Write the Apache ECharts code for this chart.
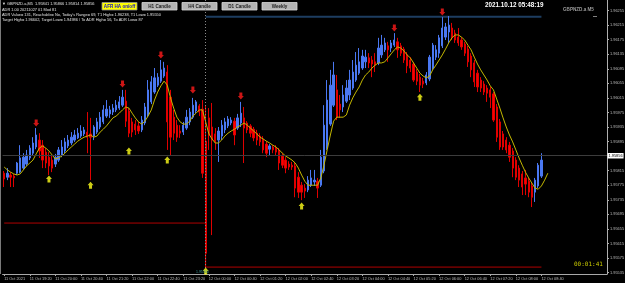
<!DOCTYPE html>
<html><head><meta charset="utf-8">
<script src="https://cdn.jsdelivr.net/npm/echarts@6/dist/echarts.min.js"></script>
<style>html,body{margin:0;padding:0;background:#000;}#c{width:625px;height:283px;}</style>
</head><body><div id="c"></div>
<script>
// ---------- data ----------
const tickLabels = ['11 Oct 2021','11 Oct 19:20','11 Oct 20:00','11 Oct 20:40','11 Oct 21:20','11 Oct 22:00','11 Oct 22:40','11 Oct 23:20','12 Oct 00:00','12 Oct 00:40','12 Oct 01:20','12 Oct 02:00','12 Oct 02:40','12 Oct 03:20','12 Oct 04:00','12 Oct 04:40','12 Oct 05:20','12 Oct 06:00','12 Oct 06:40','12 Oct 07:20','12 Oct 08:00','12 Oct 08:40'];
const barsPerLabel = 8;
const slotCount = 189;
const priceTicks = [1.96255,1.96215,1.96175,1.96135,1.96095,1.96055,1.96015,1.95975,1.95935,1.95895,1.95815,1.95775,1.95735,1.95695,1.95655,1.95615,1.95575,1.95535];

// Heiken Ashi bars: [open, close, low, high]
const haBars = [
[1.95808,1.95792,1.95770,1.95814],[1.95797,1.95808,1.95789,1.95822],[1.95803,1.95797,1.95770,1.95811],[1.95800,1.95795,1.95770,1.95806],
[1.95808,1.95836,1.95803,1.95839],[1.95811,1.95850,1.95808,1.95885],[1.95822,1.95852,1.95817,1.95863],[1.95833,1.95858,1.95828,1.95872],
[1.95850,1.95877,1.95844,1.95885],[1.95863,1.95891,1.95858,1.95907],[1.95880,1.95913,1.95874,1.95932],[1.95899,1.95869,1.95850,1.95918],
[1.95885,1.95844,1.95822,1.95899],[1.95866,1.95836,1.95822,1.95877],[1.95852,1.95828,1.95803,1.95866],[1.95844,1.95822,1.95811,1.95858],
[1.95833,1.95852,1.95825,1.95861],[1.95844,1.95872,1.95839,1.95880],[1.95858,1.95880,1.95852,1.95899],[1.95869,1.95894,1.95863,1.95905],
[1.95883,1.95899,1.95877,1.95913],[1.95891,1.95907,1.95885,1.95921],[1.95899,1.95913,1.95894,1.95927],[1.95905,1.95918,1.95902,1.95932],
[1.95910,1.95924,1.95905,1.95940],[1.95916,1.95927,1.95910,1.95935],[1.95921,1.95907,1.95863,1.95976],[1.95916,1.95907,1.95789,1.95960],
[1.95910,1.95935,1.95899,1.95940],[1.95921,1.95949,1.95916,1.95960],[1.95935,1.95962,1.95929,1.95976],[1.95949,1.95982,1.95943,1.95995],
[1.95965,1.95984,1.95960,1.96009],[1.95971,1.95982,1.95960,1.95993],[1.95976,1.95987,1.95968,1.95998],[1.95982,1.95995,1.95976,1.96009],
[1.95987,1.96004,1.95982,1.96020],[1.95995,1.96017,1.95990,1.96037],[1.96006,1.95951,1.95935,1.96037],[1.95979,1.95918,1.95907,1.95987],
[1.95949,1.95921,1.95907,1.95960],[1.95943,1.95927,1.95913,1.95954],[1.95938,1.95924,1.95916,1.95949],[1.95927,1.95954,1.95921,1.95965],
[1.95946,1.95990,1.95940,1.96001],[1.95968,1.96037,1.95962,1.96064],[1.96004,1.96059,1.95998,1.96075],[1.96031,1.96070,1.96026,1.96097],
[1.96050,1.96072,1.96045,1.96083],[1.96061,1.96092,1.96056,1.96119],[1.96075,1.96097,1.96070,1.96114],[1.96086,1.95949,1.95872,1.96105],
[1.96017,1.95907,1.95858,1.96037],[1.95962,1.95918,1.95899,1.95982],[1.95940,1.95907,1.95894,1.95954],[1.95924,1.95918,1.95905,1.95940],
[1.95921,1.95940,1.95913,1.95949],[1.95932,1.95962,1.95927,1.95982],[1.95949,1.95976,1.95940,1.95987],[1.95962,1.95995,1.95957,1.96015],
[1.95979,1.96004,1.95973,1.96009],[1.95993,1.95976,1.95965,1.95998],[1.95984,1.95808,1.95795,1.96009],[1.95896,1.95588,1.95550,1.95995],
[1.95960,1.95913,1.95872,1.95987],[1.95935,1.95899,1.95638,1.96001],[1.95916,1.95894,1.95872,1.95932],[1.95899,1.95924,1.95839,1.95935],
[1.95910,1.95940,1.95899,1.95954],[1.95927,1.95949,1.95918,1.95960],[1.95938,1.95957,1.95932,1.95965],[1.95946,1.95954,1.95940,1.95962],
[1.95951,1.95913,1.95885,1.95960],[1.95932,1.95960,1.95927,1.95971],[1.95946,1.95973,1.95935,1.96004],[1.95960,1.95932,1.95836,1.95990],
[1.95946,1.95927,1.95918,1.95951],[1.95938,1.95918,1.95907,1.95943],[1.95929,1.95905,1.95896,1.95935],[1.95918,1.95899,1.95885,1.95927],
[1.95910,1.95894,1.95883,1.95918],[1.95902,1.95872,1.95863,1.95910],[1.95888,1.95863,1.95852,1.95896],[1.95874,1.95883,1.95858,1.95888],
[1.95880,1.95872,1.95863,1.95885],[1.95877,1.95866,1.95858,1.95885],[1.95872,1.95836,1.95817,1.95877],[1.95855,1.95830,1.95822,1.95863],
[1.95844,1.95822,1.95808,1.95852],[1.95833,1.95825,1.95817,1.95841],[1.95830,1.95825,1.95817,1.95839],[1.95828,1.95767,1.95742,1.95839],
[1.95797,1.95756,1.95740,1.95811],[1.95775,1.95756,1.95734,1.95784],[1.95767,1.95759,1.95740,1.95778],[1.95762,1.95789,1.95756,1.95800],
[1.95775,1.95795,1.95770,1.95817],[1.95784,1.95789,1.95773,1.95817],[1.95786,1.95767,1.95740,1.95795],[1.95775,1.95852,1.95770,1.95872],
[1.95814,1.95940,1.95808,1.95995],[1.95877,1.96009,1.95872,1.96064],[1.95943,1.96050,1.95938,1.96092],[1.95995,1.96078,1.95990,1.96114],
[1.96037,1.95962,1.95954,1.96078],[1.95998,1.95982,1.95960,1.96023],[1.95990,1.96023,1.95976,1.96050],[1.96006,1.96042,1.96001,1.96064],
[1.96023,1.96064,1.96009,1.96092],[1.96042,1.96086,1.96037,1.96119],[1.96064,1.96105,1.96059,1.96141],[1.96083,1.96114,1.96078,1.96152],
[1.96097,1.96130,1.96092,1.96147],[1.96114,1.96127,1.96097,1.96147],[1.96125,1.96111,1.96097,1.96138],[1.96119,1.96108,1.96072,1.96130],
[1.96114,1.96105,1.96086,1.96138],[1.96111,1.96152,1.96105,1.96180],[1.96133,1.96160,1.96125,1.96188],[1.96147,1.96166,1.96141,1.96180],
[1.96158,1.96147,1.96114,1.96169],[1.96152,1.96166,1.96141,1.96174],[1.96160,1.96174,1.96155,1.96193],[1.96169,1.96147,1.96125,1.96180],
[1.96158,1.96138,1.96130,1.96166],[1.96149,1.96119,1.96111,1.96155],[1.96133,1.96103,1.96083,1.96141],[1.96119,1.96097,1.96086,1.96127],
[1.96108,1.96064,1.96059,1.96114],[1.96086,1.96061,1.96050,1.96094],[1.96072,1.96050,1.96031,1.96081],[1.96061,1.96053,1.96042,1.96070],
[1.96056,1.96078,1.96050,1.96086],[1.96067,1.96127,1.96061,1.96133],[1.96097,1.96160,1.96092,1.96166],[1.96127,1.96147,1.96119,1.96160],
[1.96138,1.96180,1.96125,1.96188],[1.96158,1.96207,1.96152,1.96237],[1.96182,1.96210,1.96174,1.96221],[1.96196,1.96215,1.96166,1.96240],
[1.96207,1.96180,1.96174,1.96221],[1.96193,1.96174,1.96166,1.96202],[1.96182,1.96166,1.96158,1.96207],[1.96174,1.96155,1.96147,1.96182],
[1.96163,1.96138,1.96130,1.96169],[1.96149,1.96114,1.96100,1.96158],[1.96130,1.96092,1.96072,1.96138],[1.96111,1.96059,1.96045,1.96119],
[1.96083,1.96045,1.96031,1.96092],[1.96064,1.96042,1.96031,1.96072],[1.96053,1.96031,1.96023,1.96061],[1.96042,1.96028,1.96004,1.96050],
[1.96037,1.96017,1.95987,1.96045],[1.96026,1.95954,1.95949,1.96031],[1.95990,1.95907,1.95894,1.95998],[1.95949,1.95880,1.95872,1.95957],
[1.95916,1.95880,1.95872,1.95924],[1.95899,1.95872,1.95863,1.95907],[1.95885,1.95852,1.95839,1.95894],[1.95869,1.95822,1.95797,1.95877],
[1.95844,1.95797,1.95789,1.95852],[1.95822,1.95789,1.95770,1.95830],[1.95806,1.95770,1.95748,1.95814],[1.95795,1.95778,1.95748,1.95817],
[1.95786,1.95756,1.95742,1.95795],[1.95773,1.95742,1.95715,1.95781],[1.95756,1.95789,1.95729,1.95795],[1.95773,1.95830,1.95767,1.95836],
[1.95800,1.95844,1.95795,1.95863]
];

const maValues = [1.95825,1.95817,1.95811,1.95806,1.95803,1.95806,1.95817,1.95828,1.95836,1.95844,
1.95861,1.95877,1.95883,1.95877,1.95869,1.95858,1.95847,1.95850,1.95855,1.95863,
1.95872,1.95880,1.95888,1.95896,1.95902,1.95907,1.95910,1.95913,1.95907,1.95910,
1.95921,1.95929,1.95938,1.95949,1.95960,1.95965,1.95973,1.95982,1.95990,1.95987,
1.95973,1.95960,1.95949,1.95943,1.95951,1.95965,1.95982,1.96009,1.96031,1.96048,
1.96061,1.96050,1.96015,1.95987,1.95962,1.95949,1.95943,1.95943,1.95951,1.95965,
1.95973,1.95982,1.95982,1.95949,1.95916,1.95902,1.95891,1.95891,1.95899,1.95910,
1.95918,1.95924,1.95929,1.95935,1.95940,1.95946,1.95940,1.95932,1.95924,1.95916,
1.95907,1.95902,1.95896,1.95891,1.95885,1.95880,1.95872,1.95863,1.95855,1.95850,
1.95844,1.95836,1.95822,1.95803,1.95786,1.95775,1.95775,1.95775,1.95775,1.95795,
1.95830,1.95872,1.95913,1.95951,1.95962,1.95962,1.95962,1.95968,1.95995,1.96015,
1.96031,1.96045,1.96064,1.96078,1.96086,1.96097,1.96105,1.96111,1.96111,1.96114,
1.96125,1.96136,1.96147,1.96155,1.96152,1.96144,1.96133,1.96125,1.96111,1.96097,
1.96083,1.96075,1.96070,1.96075,1.96092,1.96105,1.96119,1.96133,1.96149,1.96166,
1.96180,1.96188,1.96188,1.96182,1.96174,1.96160,1.96147,1.96127,1.96108,1.96092,
1.96078,1.96064,1.96048,1.96037,1.96012,1.95987,1.95960,1.95935,1.95913,1.95894,
1.95872,1.95850,1.95830,1.95811,1.95795,1.95781,1.95767,1.95764,1.95773,1.95789,1.95808];

const downArrowBars = [10, 37, 49, 59, 74, 122, 137];
const downArrowPrices = [1.95946, 1.96053, 1.96133, 1.96037, 1.96020, 1.96207, 1.96251];
const upArrowBars = [14, 27, 39, 51, 63, 93, 130];
const upArrowPrices = [1.95792, 1.95775, 1.95869, 1.95844, 1.95539, 1.95718, 1.96017];

const prevDayLow = 1.95671;
const t1High = 1.96238;
const t1Low = 1.95550;
const bidPrice = 1.95856;
const dayStartBar = 63;
const lastBar = 168;

// ---------- chart ----------
const categories = [];
for (let i = 0; i < slotCount; i++) {
  categories.push(i % barsPerLabel === 0 && tickLabels[i / barsPerLabel] ? tickLabels[i / barsPerLabel] : '');
}
const isLabelIdx = (idx) => idx % barsPerLabel === 0 && idx / barsPerLabel < tickLabels.length;

const downPath = 'path://M2,0 L6,0 L6,5 L8,5 L4,10 L0,5 L2,5 Z';
const upPath = 'path://M4,0 L8,5 L6,5 L6,10 L2,10 L2,5 L0,5 Z';
const smallFont = 'Liberation Sans';

const chart = echarts.init(document.getElementById('c'), null, {renderer: 'canvas'});

function txt(x, y, text, fill, size, weight, family, align) {
  return {type: 'text', x: x, y: y, silent: true, z: 100,
    style: {text: text, fill: fill, font: (weight || 'normal') + ' ' + size + 'px "' + (family || smallFont) + '"', verticalAlign: 'top', align: align || 'left'}};
}
function button(x, label, fill, textFill, stroke) {
  return {type: 'group', x: x, y: 2.5, z: 100, children: [
    {type: 'rect', shape: {x: 0, y: 0, width: 35, height: 7.5}, style: {fill: fill, stroke: stroke, lineWidth: 0.8}},
    {type: 'text', x: 17.5, y: 1.6, style: {text: label, fill: textFill, font: 'bold 4.6px "' + smallFont + '"', align: 'center', verticalAlign: 'top'}}
  ]};
}

const option = {
  animation: false,
  backgroundColor: '#000000',
  grid: {left: 2.6, right: 18, top: 0, bottom: 9, containLabel: false, outerBoundsMode: 'none'},
  xAxis: {
    type: 'category', data: categories, boundaryGap: true,
    axisLine: {show: true, lineStyle: {color: '#a8a8a8', width: 1}},
    axisTick: {show: true, interval: isLabelIdx, alignWithLabel: true, length: 2, lineStyle: {color: '#a8a8a8'}},
    axisLabel: {show: true, interval: isLabelIdx, align: 'left', margin: 2.5, fontSize: 3.9, color: '#bdbdbd', fontFamily: smallFont},
    splitLine: {show: false}
  },
  yAxis: {
    type: 'value', position: 'right', min: 1.95531, max: 1.96284, scale: true,
    axisLine: {show: true, lineStyle: {color: '#b0b0b0', width: 1}},
    axisTick: {show: true, length: 2, customValues: priceTicks, lineStyle: {color: '#b0b0b0'}},
    axisLabel: {show: true, customValues: priceTicks, margin: 3, fontSize: 3.9, color: '#bdbdbd', fontFamily: smallFont, formatter: (v) => v.toFixed(5)},
    splitLine: {show: false}
  },
  series: [
    {
      type: 'line', name: 'bid', z: 1, symbol: 'none',
      data: [[0, bidPrice], [slotCount - 1, bidPrice]],
      lineStyle: {width: 0, opacity: 0},
      markLine: {
        silent: true, symbol: 'none', animation: false, precision: 5,
        data: [
          {yAxis: bidPrice, lineStyle: {color: '#3c3c3c', width: 1, type: 'solid'},
           label: {show: true, position: 'end', distance: 0.5, formatter: bidPrice.toFixed(5), backgroundColor: '#ffffff', color: '#000000', fontSize: 3.9, fontFamily: smallFont, padding: [1, 1, 0.5, 1]}},
          {xAxis: dayStartBar, lineStyle: {color: '#8a8a8a', width: 1, type: [1, 2]}, label: {show: false}}
        ]
      }
    },
    {
      type: 'line', name: 'prevLow', z: 2, symbol: 'none',
      data: [[0, prevDayLow], [dayStartBar, prevDayLow], [dayStartBar, t1Low], [lastBar, t1Low]],
      lineStyle: {color: '#b00000', width: 1}
    },
    {
      type: 'line', name: 't1High', z: 2, symbol: 'none',
      data: [[dayStartBar, t1High], [lastBar, t1High]],
      lineStyle: {color: '#1d3d60', width: 2}
    },
    {
      type: 'candlestick', name: 'HA', data: haBars, z: 3, barWidth: 1.8,
      itemStyle: {color: '#4a78f2', color0: '#ff0000', borderColor: '#4a78f2', borderColor0: '#e00000', borderWidth: 1}
    },
    {
      type: 'line', name: 'MA', data: maValues, z: 4, symbol: 'none', smooth: false,
      lineStyle: {color: '#c4b800', width: 1}
    },
    {
      type: 'scatter', name: 'down', z: 5, symbol: downPath, symbolSize: [6, 7],
      data: downArrowBars.map((b, i) => [b, downArrowPrices[i]]),
      itemStyle: {color: '#ff1a1a'}
    },
    {
      type: 'scatter', name: 'up', z: 5, symbol: upPath, symbolSize: [6, 7],
      data: upArrowBars.map((b, i) => [b, upArrowPrices[i]]),
      itemStyle: {color: '#ffff1a'}
    }
  ],
  graphic: [
    {type: 'line', silent: true, shape: {x1: 0.5, y1: 0, x2: 0.5, y2: 274}, style: {stroke: '#7a7a7a', lineWidth: 1}},
    txt(2, 2, '\u25BC GBPNZD.a,M5  1.95841 1.95866 1.95814 1.95856', '#e0e0e0', 3.9),
    txt(2, 8, 'ADR 1.00 20211027 01 Mod 81', '#e0e0e0', 3.9),
    txt(2, 13, "ADR Value= 131, Reachable= No, Today's Range= 69, T1 High= 1.96238, T1 Low= 1.95550", '#e0e0e0', 3.9),
    txt(2, 17.5, 'Target High= 1.96602, Target Low= 1.94986 / To ADR High= 56, To ADR Low= 87', '#e0e0e0', 3.9),
    button(102, 'AFR HA on/off', '#ffff00', '#1010c8', '#909090'),
    button(142, 'H1 Candle', '#b4b4b4', '#1e1e1e', '#d8d8d8'),
    button(182, 'H4 Candle', '#b4b4b4', '#1e1e1e', '#d8d8d8'),
    button(222, 'D1 Candle', '#b4b4b4', '#1e1e1e', '#d8d8d8'),
    button(262, 'Weekly', '#b4b4b4', '#1e1e1e', '#d8d8d8'),
    txt(485, 2.5, '2021.10.12 05:48:19', '#ffffff', 6.3, 'bold'),
    txt(563, 7, 'GBPNZD.a M5', '#9a9a9a', 4.6, 'bold'),
    {type: 'line', silent: true, shape: {x1: 593, y1: 16.5, x2: 597, y2: 16.5}, style: {stroke: '#808080', lineWidth: 1}},
    txt(574, 261.5, '00:01:41', '#c8c800', 6, 'normal', 'DejaVu Sans Mono'),
    txt(196, 270, '1.95550', '#3a9a9a', 3.5)
  ]
};
chart.setOption(option);
</script>
</body></html>
